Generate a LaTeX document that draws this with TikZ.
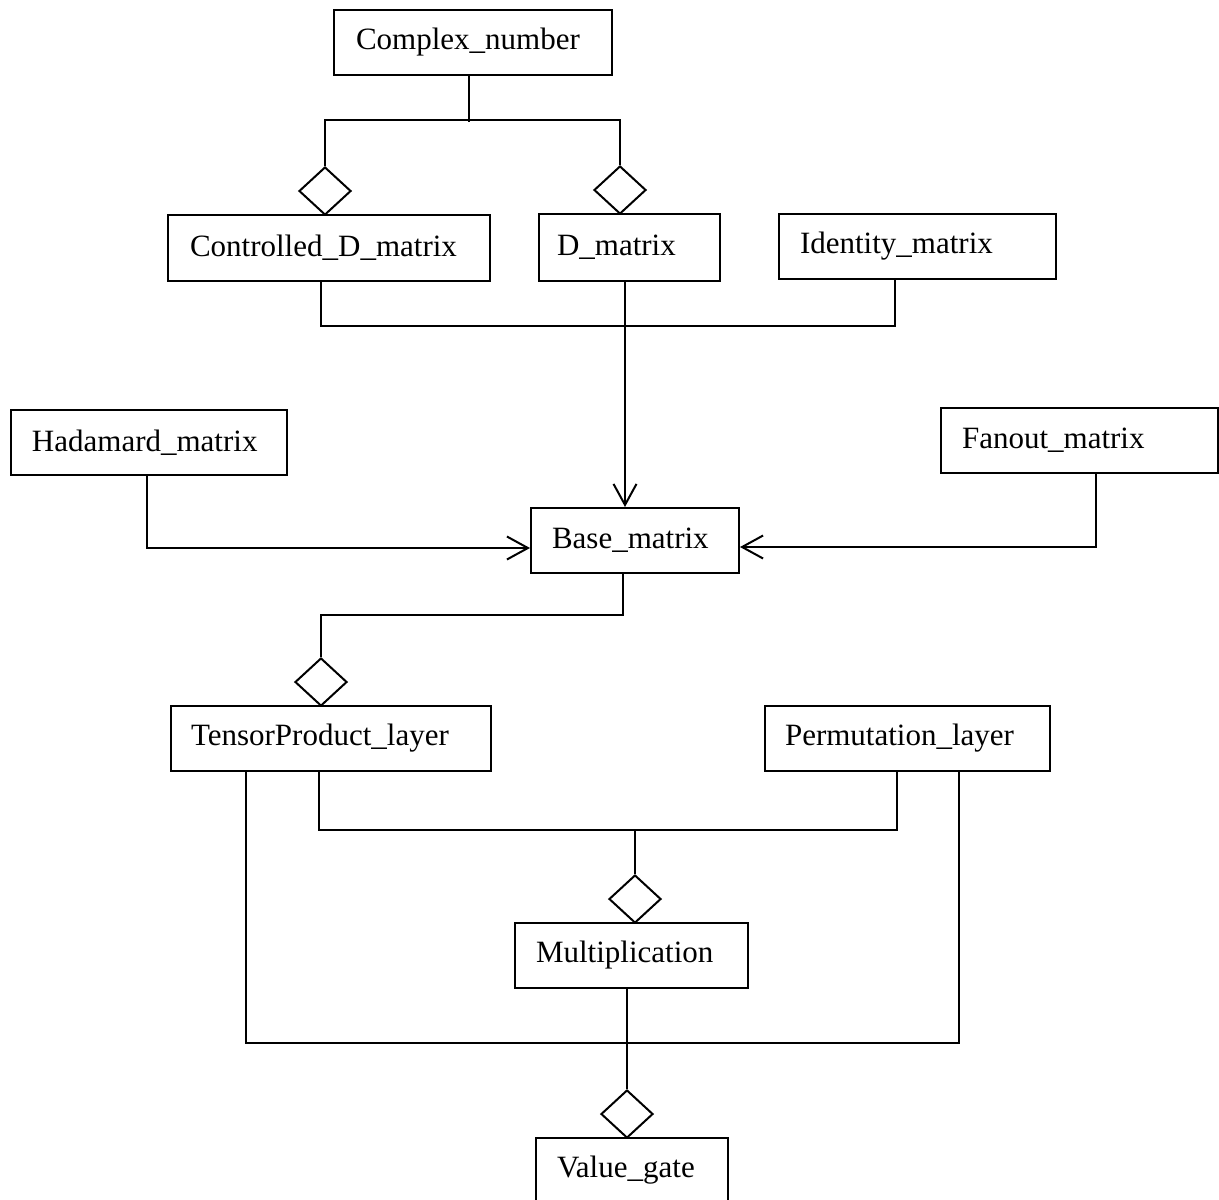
\documentclass[tikz,border=0pt]{standalone}
\usepackage{fontspec}
\setmainfont{Liberation Serif}
\usetikzlibrary{shapes.geometric,arrows.meta}
\begin{document}
\begin{tikzpicture}[x=0.5pt,y=-0.5pt,
  line width=1pt,
  box/.style={draw, rectangle, align=left, inner xsep=10.5pt, inner ysep=0pt,
    minimum height=32.5pt, font=\fontsize{15.5}{18}\selectfont},
  dia/.style={draw, diamond, minimum width=26pt, minimum height=24pt, inner sep=0pt, fill=white},
  arr/.style={-{Straight Barb[length=10.5pt,width=11.5pt,line width=1pt]}}]
\clip (0,0) rectangle (1219,1199);
\fill[white] (0,0) rectangle (1219,1199);

% boxes
\node[box, text width=117pt, inner xsep=11pt] (cn) at (473,42.5) {Complex\_number};
\node[box, text width=139pt, inner xsep=11pt, minimum height=33pt] (cd) at (329,248) {Controlled\_D\_matrix};
\node[box, text width=72.5pt, inner xsep=9pt, minimum height=33.5pt] (dm) at (629.5,247.5) {D\_matrix};
\node[box, text width=117.5pt] (id) at (917.5,246.5) {Identity\_matrix};
\node[box, text width=117pt] (hm) at (149,442.5) {Hadamard\_matrix};
\node[box, text width=117.5pt] (fm) at (1079.5,440) {Fanout\_matrix};
\node[box, text width=83pt] (bm) at (635,540.5) {Base\_matrix};
\node[box, text width=140pt, inner xsep=10pt] (tp) at (331,738.5) {TensorProduct\_layer};
\node[box, text width=122.5pt, inner xsep=10pt] (pl) at (907.5,738.5) {Permutation\_layer};
\node[box, text width=95.5pt] (mu) at (631.5,955) {Multiplication};
\node[box, text width=75pt] (vg) at (632,1170.5) {Value\_gate};

% diamonds
\node[dia] (d1) at (325,191) {};
\node[dia] (d2) at (620,190) {};
\node[dia] (d3) at (321,682) {};
\node[dia] (d4) at (635,899) {};
\node[dia] (d5) at (627,1114) {};

% junctions
\coordinate (j0) at (469,120);
\coordinate (j1) at (321,326);
\coordinate (j2) at (895,326);
\coordinate (a1) at (625,281);
\coordinate (j4) at (635,829);

% Complex_number aggregation
\draw (cn.south -| j0) -- ([yshift=-1pt]j0);
\draw (d1.north) |- (j0) -| (d2.north);

% row 2 bus
\draw (cd.south -| j1) -- (j1) -- (j2) -- (id.south -| j2);
\draw[arr] (dm.south -| a1) -- (bm.north -| a1);

% side arrows
\draw[arr] ([xshift=-1pt]hm.south) |- ([yshift=-3.75pt]bm.west);
\draw[arr] ([xshift=8.25pt]fm.south) |- ([yshift=-3.25pt]bm.east);

% Base to TensorProduct
\draw ([xshift=-6pt]bm.south) -- ++(0,41) -| (d3.north);

% layers to Multiplication
\draw ([xshift=-6pt]tp.south) -- ++(0,58) -| ([xshift=-5.25pt]pl.south);
\draw (j4) -- (d4.north);

% outer bus to Value_gate
\draw ([xshift=-42.5pt]tp.south) -- ++(0,271) -| ([xshift=25.75pt]pl.south);
\draw ([xshift=-2.25pt]mu.south) -- (d5.north);
\end{tikzpicture}
\end{document}
